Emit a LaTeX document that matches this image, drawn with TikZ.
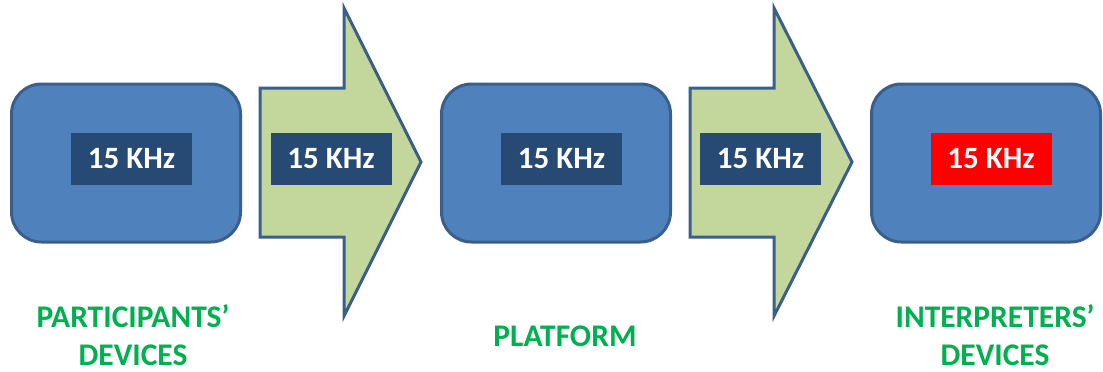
\documentclass[tikz,border=0pt]{standalone}
\usepackage{fontspec}
\setmainfont{Carlito}
\begin{document}
\begin{tikzpicture}[x=1pt,y=-1pt,
  dev/.style={draw=edgeblue,line width=3pt,fill=boxblue,rounded corners=30pt,minimum width=229pt,minimum height=158pt,inner sep=0pt},
  arr/.style={draw=edgeblue,line width=3pt,fill=arrgreen,line join=miter},
  lab/.style={fill=labdark,text=white,font=\fontsize{31}{36}\selectfont\bfseries,minimum width=121pt,minimum height=52pt,inner sep=0pt},
  captxt/.style={text=capgreen,font=\fontsize{31.5}{38}\selectfont\bfseries,align=center,inner sep=0pt}]
\definecolor{edgeblue}{HTML}{3A5F8C}
\definecolor{boxblue}{HTML}{4F81BD}
\definecolor{arrgreen}{HTML}{C3D69B}
\definecolor{labdark}{HTML}{264A73}
\definecolor{capgreen}{HTML}{00B050}
\useasboundingbox (0,0) rectangle (1103,372);
\fill[white] (0,0) rectangle (1103,372);
% devices
\node[dev] (b1) at (126,163) {};
\node[dev] (b2) at (556,163) {};
\node[dev] (b3) at (986,163) {};
% arrows
\draw[arr] (260,88) -- (344,88) -- (344,8) -- (421,162) -- (344,316) -- (344,237) -- (260,237) -- cycle;
\draw[arr] (690,88) -- (774,88) -- (774,8) -- (852,162) -- (774,316) -- (774,237) -- (690,237) -- cycle;
% labels
\node[lab] (l1) at (131.5,158.5) {15 KHz};
\node[lab] (l2) at (331,158.5) {15 KHz};
\node[lab] (l3) at (561.5,158.5) {15 KHz};
\node[lab] (l4) at (760.5,158.5) {15 KHz};
\node[lab,fill=red] (l5) at (991,158.5) {15 KHz};
% captions
\node[captxt] (c1) at (133,335) {PARTICIPANTS’\\DEVICES};
\node[captxt] (c2) at (565,336) {PLATFORM};
\node[captxt] (c3) at (995,335) {INTERPRETERS’\\DEVICES};
\end{tikzpicture}
\end{document}
